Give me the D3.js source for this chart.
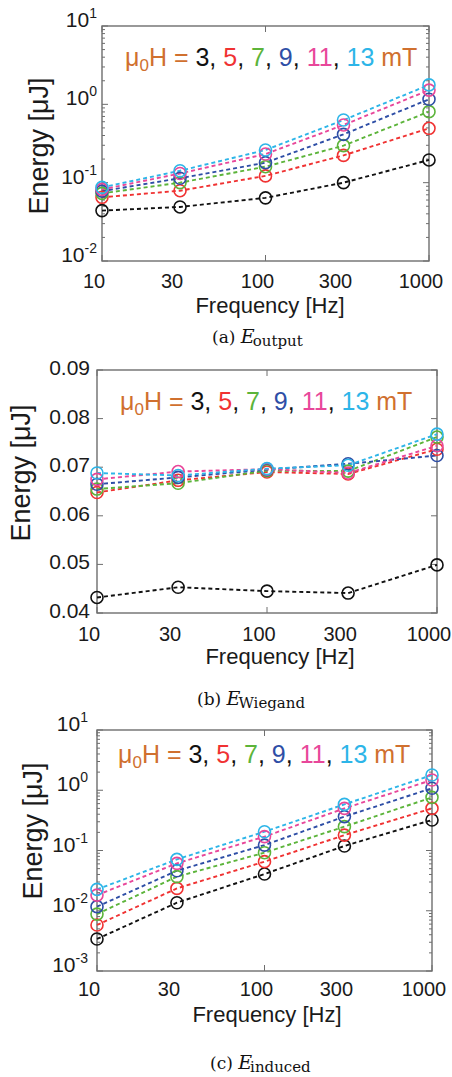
<!DOCTYPE html>
<html>
<head>
<meta charset="utf-8">
<script src="https://cdn.jsdelivr.net/npm/d3@7"></script>
<style>
  body { margin: 0; background: #fff; }
  svg { display: block; }
</style>
</head>
<body>
<div id="chart"></div>
<script>
// frequencies and field strengths
const freqs = [10, 30, 100, 300, 1000];
const xTickLabels = ["10", "30", "100", "300", "1000"];
const fieldsMT = [3, 5, 7, 9, 11, 13];
const seriesColors = ["#111111", "#f03232", "#5cb43a", "#2e4ea6", "#e8479a", "#2db5e8"];

// (a) E_output [uJ], one row per field
const eOutput = [
    [0.044, 0.049, 0.064, 0.100, 0.195],
    [0.065, 0.079, 0.122, 0.223, 0.494],
    [0.073, 0.100, 0.160, 0.297, 0.806],
    [0.078, 0.114, 0.180, 0.414, 1.16],
    [0.082, 0.131, 0.232, 0.545, 1.52],
    [0.087, 0.142, 0.261, 0.630, 1.77]
];

// (b) E_Wiegand [uJ]
const eWiegand = [
    [0.0432, 0.0453, 0.0445, 0.0441, 0.0499],
    [0.0648, 0.0673, 0.0690, 0.0686, 0.0737],
    [0.0655, 0.0667, 0.0693, 0.0692, 0.0762],
    [0.0665, 0.0679, 0.0695, 0.0707, 0.0724],
    [0.0675, 0.0691, 0.0696, 0.0688, 0.0744],
    [0.0688, 0.0683, 0.0697, 0.0704, 0.0768]
];

// (c) E_induced [uJ]
const eInduced = [
    [0.0034, 0.0136, 0.0407, 0.119, 0.321],
    [0.0058, 0.0235, 0.0653, 0.180, 0.50],
    [0.0088, 0.0368, 0.092, 0.249, 0.762],
    [0.0117, 0.0462, 0.123, 0.365, 1.08],
    [0.0182, 0.0612, 0.170, 0.500, 1.48],
    [0.0226, 0.0713, 0.205, 0.583, 1.79]
];

const wiegandTicks = [0.04, 0.05, 0.06, 0.07, 0.08, 0.09];

const legendParts = [
    { t: "μ", c: "#d0702f" }, { t: "0", c: "#d0702f", sub: true }, { t: "H = ", c: "#d0702f" },
    { t: "3", c: seriesColors[0] }, { t: ", ", c: "#111" },
    { t: "5", c: seriesColors[1] }, { t: ", ", c: "#111" },
    { t: "7", c: seriesColors[2] }, { t: ", ", c: "#111" },
    { t: "9", c: seriesColors[3] }, { t: ", ", c: "#111" },
    { t: "11", c: seriesColors[4] }, { t: ", ", c: "#111" },
    { t: "13", c: seriesColors[5] }, { t: " mT", c: "#d0702f" }
];

const width = 452, height = 1077;
const svg = d3.select("#chart").append("svg")
    .attr("width", width)
    .attr("height", height);

const sans = "Arial, 'Liberation Sans', Helvetica, sans-serif";
const serif = "'DejaVu Serif', 'Liberation Serif', serif";
const frameColor = "#6e6e6e";

function drawPanel(p) {
    const g = svg.append("g");

    const x = d3.scaleLog().domain([10, 1000]).range([p.left, p.right]);
    const y = p.log
        ? d3.scaleLog().domain(p.yDomain).range([p.bottom, p.top])
        : d3.scaleLinear().domain(p.yDomain).range([p.bottom, p.top]);

    // y ticks (left and right, pointing in)
    let major, minor = [];
    if (p.log) {
        const all = y.ticks();
        major = all.filter(d => Math.abs(Math.log10(d) - Math.round(Math.log10(d))) < 1e-9);
        minor = all.filter(d => major.indexOf(d) < 0);
    } else {
        major = wiegandTicks;
    }
    const tk = g.append("g").attr("stroke", frameColor).attr("stroke-width", 1);
    major.forEach(d => {
        tk.append("line").attr("x1", p.left).attr("x2", p.left + 6).attr("y1", y(d)).attr("y2", y(d));
        tk.append("line").attr("x1", p.right).attr("x2", p.right - 6).attr("y1", y(d)).attr("y2", y(d));
    });
    minor.forEach(d => {
        tk.append("line").attr("x1", p.left).attr("x2", p.left + 3).attr("y1", y(d)).attr("y2", y(d));
        tk.append("line").attr("x1", p.right).attr("x2", p.right - 3).attr("y1", y(d)).attr("y2", y(d));
    });
    // x ticks at decades
    [10, 100, 1000].forEach(d => {
        tk.append("line").attr("x1", x(d)).attr("x2", x(d)).attr("y1", p.bottom).attr("y2", p.bottom - 6);
        tk.append("line").attr("x1", x(d)).attr("x2", x(d)).attr("y1", p.top).attr("y2", p.top + 6);
    });

    // frame
    g.append("rect")
        .attr("x", p.left).attr("y", p.top)
        .attr("width", p.right - p.left).attr("height", p.bottom - p.top)
        .attr("fill", "none")
        .attr("stroke", frameColor)
        .attr("stroke-width", 1.4);

    // y tick labels
    const yl = g.append("g").attr("font-family", sans).attr("fill", "#1a1a1a");
    if (p.log) {
        major.forEach(d => {
            const t = yl.append("text")
                .attr("x", p.left - p.labelGap)
                .attr("y", y(d) + 1)
                .attr("text-anchor", "end")
                .attr("font-size", 21)
                .text("10");
            t.append("tspan")
                .attr("dy", -9)
                .attr("font-size", 14)
                .text(Math.round(Math.log10(d)));
        });
    } else {
        major.forEach(d => {
            yl.append("text")
                .attr("x", p.left - p.labelGap)
                .attr("y", y(d) + 5)
                .attr("text-anchor", "end")
                .attr("font-size", 21)
                .text(d3.format(".2f")(d));
        });
    }

    // x tick labels
    freqs.forEach((f, i) => {
        yl.append("text")
            .attr("x", x(f) - 8)
            .attr("y", p.bottom + p.xLabelOff)
            .attr("text-anchor", "middle")
            .attr("font-size", 20)
            .text(xTickLabels[i]);
    });

    // axis titles
    yl.append("text")
        .attr("x", p.xTitleX).attr("y", p.xTitleY)
        .attr("text-anchor", "middle")
        .attr("font-size", 22)
        .text("Frequency [Hz]");
    yl.append("text")
        .attr("transform", `translate(${p.yTitleX},${p.yTitleY}) rotate(-90)`)
        .attr("text-anchor", "middle")
        .attr("font-size", 27)
        .text("Energy [μJ]");

    // series
    const line = d3.line().x((d, i) => x(freqs[i])).y(d => y(d));
    p.data.forEach((row, s) => {
        g.append("path")
            .datum(row)
            .attr("d", line)
            .attr("fill", "none")
            .attr("stroke", seriesColors[s])
            .attr("stroke-width", 1.9)
            .attr("stroke-dasharray", "4,3");
    });
    p.data.forEach((row, s) => {
        g.selectAll(null)
            .data(row)
            .enter().append("circle")
            .attr("cx", (d, i) => x(freqs[i]))
            .attr("cy", d => y(d))
            .attr("r", 6)
            .attr("fill", "none")
            .attr("stroke", seriesColors[s])
            .attr("stroke-width", 1.6);
    });

    // legend
    const lg = g.append("text")
        .attr("x", p.legendX).attr("y", p.legendY)
        .attr("font-family", sans)
        .attr("font-size", 25)
        .attr("xml:space", "preserve");
    let shifted = false;
    legendParts.forEach(part => {
        const ts = lg.append("tspan").attr("fill", part.c).text(part.t);
        if (part.sub) {
            ts.attr("font-size", 17).attr("dy", 5);
            shifted = true;
        } else if (shifted) {
            ts.attr("dy", -5);
            shifted = false;
        }
    });

    // caption
    const cap = g.append("text")
        .attr("x", p.captionX).attr("y", p.captionY)
        .attr("font-family", serif)
        .attr("font-size", 17)
        .attr("fill", "#111")
        .attr("xml:space", "preserve");
    cap.append("tspan").text(p.captionTag + " ");
    cap.append("tspan").attr("font-style", "italic").attr("font-size", 19).text("E");
    cap.append("tspan").attr("font-size", 15).attr("dy", 3).attr("dx", -2).text(p.captionSub);
}

drawPanel({
    data: eOutput, log: true, yDomain: [1e-2, 1e1],
    left: 102, right: 429, top: 26, bottom: 261, labelGap: 5, xLabelOff: 27,
    yTitleX: 48, yTitleY: 146, xTitleX: 270, xTitleY: 313,
    legendX: 125, legendY: 66,
    captionX: 212, captionY: 343, captionTag: "(a)", captionSub: "output"
});

drawPanel({
    data: eWiegand, log: false, yDomain: [0.04, 0.09],
    left: 97, right: 437, top: 370, bottom: 613, labelGap: 7, xLabelOff: 28,
    yTitleX: 30, yTitleY: 473, xTitleX: 280, xTitleY: 664,
    legendX: 120, legendY: 410,
    captionX: 197, captionY: 705, captionTag: "(b)", captionSub: "Wiegand"
});

drawPanel({
    data: eInduced, log: true, yDomain: [1e-3, 1e1],
    left: 97, right: 432, top: 730, bottom: 971, labelGap: 9, xLabelOff: 25,
    yTitleX: 42, yTitleY: 831, xTitleX: 267, xTitleY: 1022,
    legendX: 118, legendY: 763,
    captionX: 210, captionY: 1069, captionTag: "(c)", captionSub: "induced"
});
</script>
</body>
</html>
